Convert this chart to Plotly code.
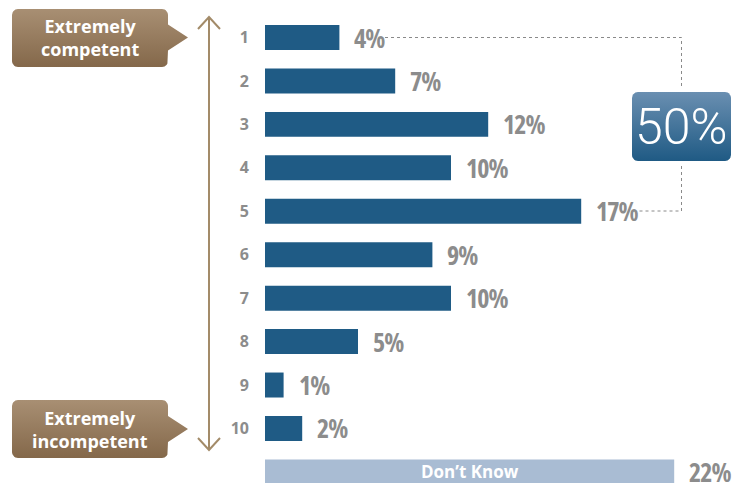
import numpy as np
import plotly.graph_objects as go

# Survey data: ratings from 1 (extremely competent) to 10 (extremely incompetent)
ratings = ["1", "2", "3", "4", "5", "6", "7", "8", "9", "10"]
shares = [4, 7, 12, 10, 17, 9, 10, 5, 1, 2]
dont_know_label = "Don’t Know"
dont_know_share = 22
top_label = "Extremely<br>competent"
bottom_label = "Extremely<br>incompetent"

W, H = 741, 483
BAR_BLUE = "#1f5b85"
LIGHT_BLUE = "#a9bcd3"
GRAY = "#8c8c8c"
TAN = "#a38b69"

categories = ratings + [dont_know_label]
top_half = sum(shares[:5])

fig = go.Figure()

# Main rating bars
fig.add_trace(go.Bar(
    x=shares, y=ratings, orientation="h", width=0.575,
    marker=dict(color=BAR_BLUE, line=dict(width=0)),
    hoverinfo="skip", xaxis="x", yaxis="y",
))

# "Don't know" bar
fig.add_trace(go.Bar(
    x=[dont_know_share], y=[dont_know_label], orientation="h", width=0.575,
    marker=dict(color=LIGHT_BLUE, line=dict(width=0)),
    hoverinfo="skip", xaxis="x", yaxis="y",
))

# Percentage labels in a condensed face, placed just past each bar end
annotations = []
narrow = "font-stretch:75%;letter-spacing:-1px"
value_font = dict(family="Open Sans", size=26, color=GRAY, weight="bold")
for idx, v in enumerate(shares + [dont_know_share]):  # category axis -> index
    annotations.append(dict(
        x=v, y=idx, xref="x", yref="y",
        text=f'<span style="{narrow}">{v}%</span>', showarrow=False,
        xanchor="left", yanchor="middle", xshift=13, font=value_font,
    ))

# Label centred inside the "Don't know" bar
annotations.append(dict(
    x=dont_know_share / 2, y=len(ratings), xref="x", yref="y",
    text=dont_know_label, showarrow=False, xanchor="center", yanchor="middle",
    font=dict(family="Open Sans", size=17, color="white", weight="bold"),
))


# ---- Decorations drawn on a pixel-space overlay (x2/y2) ----
def rounded_box(x0, y0, x1, y1, r, tip=None):
    """Closed outline of a rounded rectangle, optionally with a pointer on the right."""
    pts = []

    def arc(cx, cy, a0, a1):
        for a in np.linspace(a0, a1, 8):
            pts.append((cx + r * np.cos(a), cy + r * np.sin(a)))

    # screen coords (y down): start at top-left corner, go clockwise
    arc(x0 + r, y0 + r, np.pi, 1.5 * np.pi)
    arc(x1 - r, y0 + r, 1.5 * np.pi, 2 * np.pi)
    if tip is not None:
        tx, ty, hb = tip
        pts += [(x1, ty - hb), (tx, ty), (x1, ty + hb)]
    arc(x1 - r, y1 - r, 0, 0.5 * np.pi)
    arc(x0 + r, y1 - r, 0.5 * np.pi, np.pi)
    pts.append(pts[0])
    xs, ys = zip(*pts)
    return list(xs), list(ys)


def gradient_fill(xs, ys, top_color, bottom_color, y_top, y_bot):
    return go.Scatter(
        x=xs, y=ys, mode="lines", fill="toself", line=dict(width=0),
        fillgradient=dict(type="vertical",
                          colorscale=[[0, top_color], [1, bottom_color]],
                          start=y_top, stop=y_bot),
        hoverinfo="skip", xaxis="x2", yaxis="y2",
    )


# Callout boxes
xs, ys = rounded_box(12, 9, 168, 67, 6, tip=(188, 37.5, 13))
fig.add_trace(gradient_fill(xs, ys, "#a88f73", "#84684a", 9, 67))
xs, ys = rounded_box(12, 400, 168, 458, 6, tip=(188, 429, 13))
fig.add_trace(gradient_fill(xs, ys, "#a88f73", "#84684a", 400, 458))

# Total box
xs, ys = rounded_box(632, 92, 731, 161, 6)
fig.add_trace(gradient_fill(xs, ys, "#6a8fb1", "#1f5a84", 92, 161))

# Double-headed scale arrow
fig.add_trace(go.Scatter(
    x=[209, 209, None, 198, 209, 220, None, 198, 209, 220],
    y=[17, 450, None, 29, 17, 29, None, 438, 450, 438],
    mode="lines", line=dict(color=TAN, width=2),
    hoverinfo="skip", xaxis="x2", yaxis="y2",
))

# Dotted bracket linking ratings 1-5 to the total
fig.add_trace(go.Scatter(
    x=[385, 681.5, 681.5, None, 681.5, 681.5, 637],
    y=[37.5, 37.5, 87, None, 166, 211, 211],
    mode="lines", line=dict(color="#8a8a8a", width=1, dash="dot"),
    hoverinfo="skip", xaxis="x2", yaxis="y2",
))

callout_font = dict(family="Open Sans", size=18, color="white", weight="bold")
annotations += [
    dict(x=90, y=37, xref="x2", yref="y2", text=top_label, showarrow=False,
         font=callout_font, align="center"),
    dict(x=90, y=429, xref="x2", yref="y2", text=bottom_label, showarrow=False,
         font=callout_font, align="center"),
    dict(x=681, y=127, xref="x2", yref="y2", text=f"{top_half}%", showarrow=False,
         font=dict(family="Roboto", size=50, color="white", weight=300)),
]

px_per_pct = 18.6
fig.update_layout(
    width=W, height=H, margin=dict(l=0, r=0, t=0, b=0),
    paper_bgcolor="white", plot_bgcolor="rgba(0,0,0,0)",
    showlegend=False, barmode="overlay",
    xaxis=dict(domain=[265 / W, 1], range=[0, (W - 265) / px_per_pct],
               visible=False, fixedrange=True),
    yaxis=dict(type="category", categoryorder="array", categoryarray=categories,
               range=[(H - 37.5) / 43.44, -37.5 / 43.44],
               tickvals=ratings, ticktext=ratings, ticks="",
               ticklabelstandoff=15,
               tickfont=dict(family="Open Sans", size=16, color=GRAY, weight="bold"),
               showgrid=False, zeroline=False, showline=False, fixedrange=True),
    xaxis2=dict(domain=[0, 1], range=[0, W], visible=False, anchor="y2",
                fixedrange=True),
    yaxis2=dict(domain=[0, 1], range=[H, 0], visible=False, anchor="x2",
                fixedrange=True),
    annotations=annotations,
)

fig.write_html("out.html")
